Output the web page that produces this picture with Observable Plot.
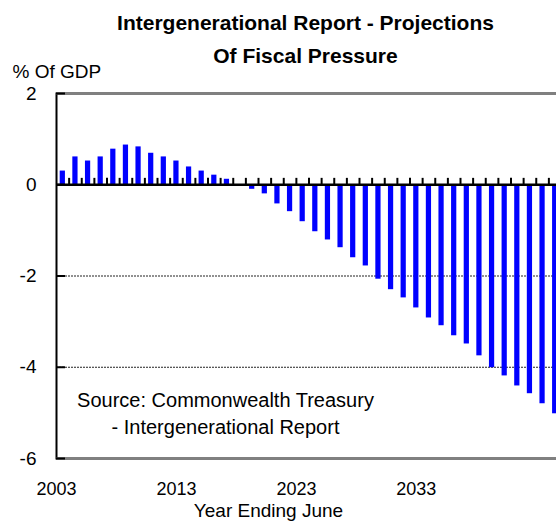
<!DOCTYPE html>
<html><head><meta charset="utf-8">
<script src="https://cdn.jsdelivr.net/npm/d3@7"></script>
<script src="https://cdn.jsdelivr.net/npm/@observablehq/plot@0.6"></script>
<style>html,body{margin:0;padding:0;background:#fff;overflow:hidden}</style>
</head><body><div id="chart"></div>
<script>
const years = [2003,2004,2005,2006,2007,2008,2009,2010,2011,2012,2013,2014,2015,2016,2017,2018,2019,2020,2021,2022,
               2023,2024,2025,2026,2027,2028,2029,2030,2031,2032,2033,2034,2035,2036,2037,2038,2039,2040,2041,2042];
const values = [0.30,0.61,0.52,0.61,0.78,0.87,0.83,0.69,0.61,0.52,0.39,0.30,0.21,0.12,0.00,-0.10,-0.20,-0.42,-0.59,-0.81,
                -1.03,-1.21,-1.38,-1.60,-1.78,-2.07,-2.30,-2.48,-2.70,-2.92,-3.09,-3.31,-3.49,-3.75,-4.01,-4.19,-4.41,-4.58,-4.80,-5.02];
const yTicks = [-6,-4,-2,0,2];
const gridValues = [-2,-4];
const frameValues = [2,-6];
const xTickLabels = [2003,2013,2023,2033];
const titleText = "Intergenerational Report - Projections\nOf Fiscal Pressure";
const yLabel = "% Of GDP";
const xLabel = "Year Ending June";
const sourceText = "Source: Commonwealth Treasury\n- Intergenerational Report";

const data = years.map((year, i) => ({year, value: values[i]}));
const boundaries = years.slice(1).concat([years[years.length - 1] + 1]);
const font = "'Liberation Sans', Arial, Helvetica, sans-serif";

const chart = Plot.plot({
  width: 556, height: 521,
  marginLeft: 56, marginRight: -5, marginTop: 93, marginBottom: 63,
  style: {fontFamily: font, background: "white", color: "black", overflow: "hidden"},
  x: {type: "linear", domain: [years[0], years[years.length - 1] + 1], axis: null, label: null},
  y: {domain: [-6, 2], axis: null, label: null},
  marks: [
    Plot.frame({stroke: "black", strokeWidth: 2}),
    Plot.ruleY(frameValues, {stroke: "#808080", strokeWidth: 2}),
    Plot.ruleY(gridValues, {stroke: "#222", strokeWidth: 1, strokeDasharray: "2,1"}),
    Plot.rect(data, {x1: d => d.year, x2: d => d.year + 1, y1: 0, y2: "value", fill: "#0000ff", insetLeft: 3.7, insetRight: 3.7}),
    Plot.ruleY([0], {stroke: "black", strokeWidth: 2.5}),
    Plot.ruleX(boundaries, {y1: 0, y2: 0.14, stroke: "black", strokeWidth: 2}),
    Plot.axisY(yTicks, {tickSize: 9, dx: 9, tickFormat: () => "", strokeWidth: 2, label: null}),
    Plot.axisY(yTicks, {tickSize: 0, tickPadding: 20, tickFormat: d => String(d), fontSize: 19, label: null}),
    ...xTickLabels.map(t => Plot.axisX([t], {tickSize: 0, tickPadding: 24, tickFormat: d => String(d), fontSize: 18, label: null, dx: -0.63 * (t - years[0])})),
    Plot.text([titleText], {frameAnchor: "top", text: d => d, fontSize: 21, fontWeight: "bold", lineAnchor: "bottom", lineHeight: 1.55, dy: -31, dx: -3.5}),
    Plot.text([yLabel], {frameAnchor: "top-left", text: d => d, fontSize: 19, textAnchor: "start", lineAnchor: "bottom", dx: -44, dy: -16}),
    Plot.text([xLabel], {frameAnchor: "bottom", text: d => d, fontSize: 19, lineAnchor: "bottom", dy: 58, dx: -40.5}),
    Plot.text([sourceText], {frameAnchor: "bottom-left", text: d => d, fontSize: 20, textAnchor: "middle", lineAnchor: "bottom", lineHeight: 1.35, dx: 169, dy: -25})
  ]
});
document.getElementById("chart").appendChild(chart);
</script>
</body></html>
